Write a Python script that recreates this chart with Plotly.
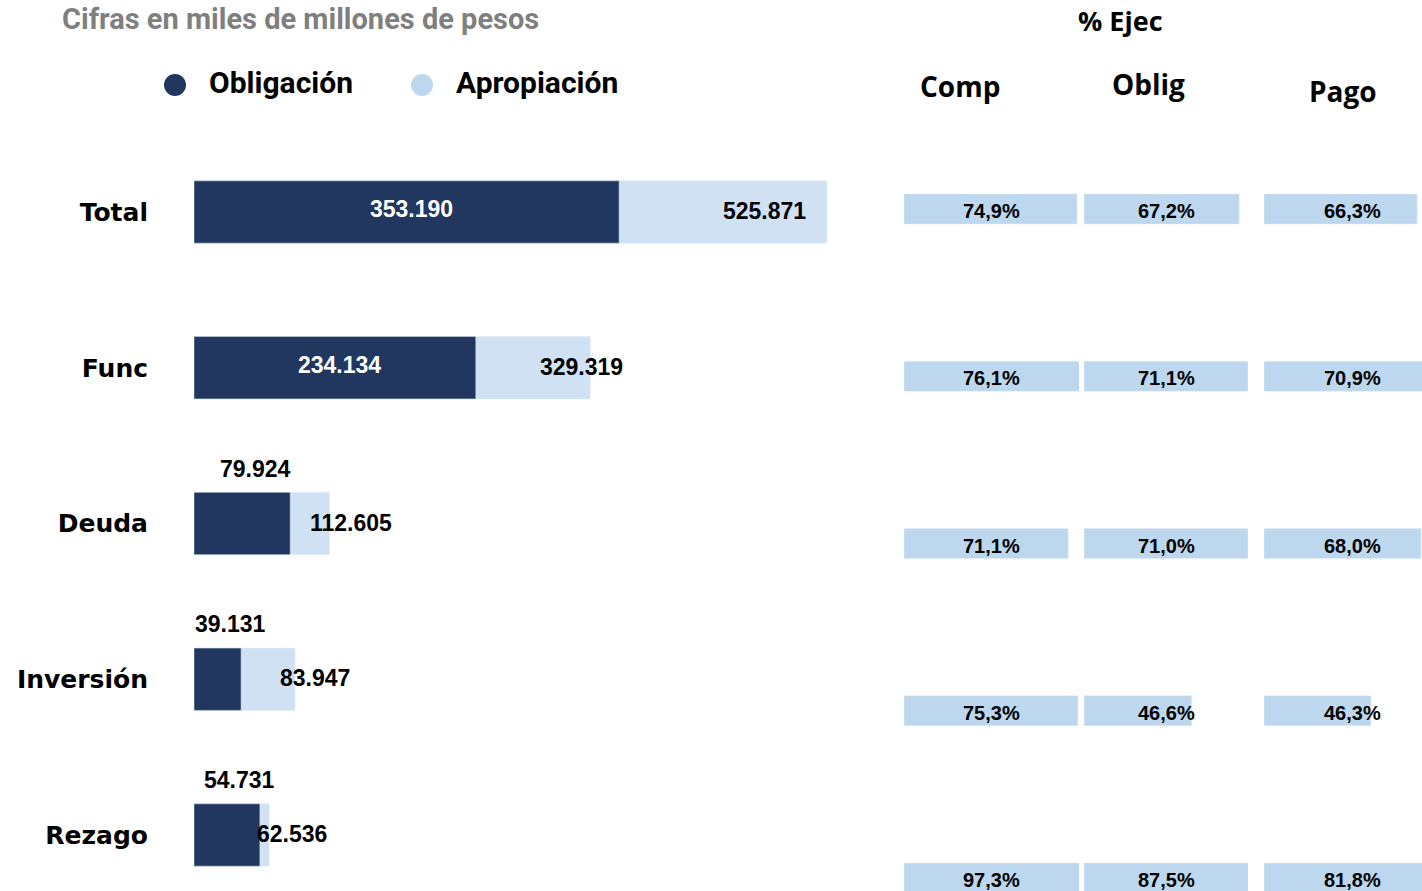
import plotly.graph_objects as go

# datos (miles de millones de pesos)
categorias = ["Total", "Func", "Deuda", "Inversión", "Rezago"]
obligacion = [353190, 234134, 79924, 39131, 54731]
apropiacion = [525871, 329319, 112605, 83947, 62536]

# % de ejecucion
pct_comp = [74.9, 76.1, 71.1, 75.3, 97.3]
pct_oblig = [67.2, 71.1, 71.0, 46.6, 87.5]
pct_pago = [66.3, 70.9, 68.0, 46.3, 81.8]

W, H = 1422, 891
DARK = "#21375F"
LIGHT = "#CFE1F2"
CELL = "#BDD7EE"
NUM_FONT = "Liberation Sans"


def miles(v):
    return f"{v:,}".replace(",", ".")


def pct(v):
    return f"{v:.1f}%".replace(".", ",")


def px_x(p):
    return p / W


def px_y(p):
    return 1 - p / H


fig = go.Figure()

# barras principales
fig.add_trace(go.Bar(y=categorias, x=apropiacion, orientation="h", marker_color=LIGHT,
                     width=0.4, showlegend=False, hoverinfo="skip"))
fig.add_trace(go.Bar(y=categorias, x=obligacion, orientation="h", marker_color=DARK,
                     width=0.4, showlegend=False, hoverinfo="skip"))

# tabla de % ejecucion
cols = [("x2", pct_comp), ("x3", pct_oblig), ("x4", pct_pago)]
for xa, vals in cols:
    fig.add_trace(go.Bar(y=categorias, x=vals, orientation="h", xaxis=xa, yaxis="y2",
                         marker_color=CELL, width=0.18, showlegend=False, hoverinfo="skip"))

px_per_unit = 1.2037 / 1000
x_left, x_right = 194, 880
px_per_pct = 2.31

left_dom = [x_left / W, x_right / W]
comp_dom = [904 / W, 1079 / W]
oblig_dom = [1084 / W, 1248 / W]
pago_dom = [1264 / W, 1.0]

fig.update_layout(
    width=W, height=H,
    margin=dict(l=0, r=0, t=0, b=0),
    plot_bgcolor="white", paper_bgcolor="white",
    barmode="overlay",
    showlegend=False,
    font=dict(family=NUM_FONT, color="black"),
    xaxis=dict(domain=left_dom, range=[0, (x_right - x_left) / px_per_unit],
               visible=False, fixedrange=True),
    yaxis=dict(domain=[0, (H - 100) / H], range=[(891 - 212) / 155.75, (100 - 212) / 155.75],
               categoryorder="array", categoryarray=categorias,
               showgrid=False, zeroline=False, showline=False, ticks="",
               ticklabelstandoff=45,
               tickfont=dict(family="DejaVu Sans", size=25, color="black", weight="bold")),
    xaxis2=dict(domain=comp_dom, range=[0, (comp_dom[1] - comp_dom[0]) * W / px_per_pct],
                visible=False, anchor="y2"),
    xaxis3=dict(domain=oblig_dom, range=[0, (oblig_dom[1] - oblig_dom[0]) * W / px_per_pct],
                visible=False, anchor="y2"),
    xaxis4=dict(domain=pago_dom, range=[0, (pago_dom[1] - pago_dom[0]) * W / px_per_pct],
                visible=False, anchor="y2"),
    yaxis2=dict(domain=[0, (H - 100) / H], range=[(891 - 209) / 167.25, (100 - 209) / 167.25],
                categoryorder="array", categoryarray=categorias, visible=False, anchor="x2"),
)

# leyenda (circulos + texto)
for nombre, color, cx in [("Obligación", DARK, 175), ("Apropiación", CELL, 422)]:
    fig.add_shape(type="circle", xref="paper", yref="paper",
                  x0=px_x(cx - 11), x1=px_x(cx + 11), y0=px_y(85 + 11), y1=px_y(85 - 11),
                  fillcolor=color, line_width=0)
    fig.add_annotation(x=px_x(cx + 32), y=px_y(82), xref="paper", yref="paper",
                       xanchor="left", yanchor="middle", text=f"<b>{nombre}</b>", showarrow=False,
                       font=dict(family="Roboto", size=30, color="black"))

# textos de las barras
aprop_shift = [-19, 35, 64, 57, 60]
for i, cat in enumerate(categorias):
    ob = obligacion[i]
    if ob > 150000:
        fig.add_annotation(x=ob / 2, y=cat, xref="x", yref="y", text=f"<b>{miles(ob)}</b>",
                           showarrow=False, xshift=5, yshift=3,
                           xanchor="center", yanchor="middle",
                           font=dict(family=NUM_FONT, size=23, color="white"))
    else:
        fig.add_annotation(x=ob / 2, y=cat, xref="x", yref="y", text=f"<b>{miles(ob)}</b>",
                           showarrow=False, xshift=13, yshift=55,
                           xanchor="center", yanchor="middle",
                           font=dict(family=NUM_FONT, size=23, color="black"))
    fig.add_annotation(x=apropiacion[i], y=cat, xref="x", yref="y",
                       text=f"<b>{miles(apropiacion[i])}</b>", showarrow=False,
                       xanchor="right", yanchor="middle", xshift=aprop_shift[i], yshift=1,
                       font=dict(family=NUM_FONT, size=23, color="black"))

# textos de la tabla
for xa, vals in cols:
    shift = 9 if xa == "x4" else 0
    for i, cat in enumerate(categorias):
        fig.add_annotation(x=0.5, y=cat, xref=f"{xa} domain", yref="y2", text=f"<b>{pct(vals[i])}</b>",
                           showarrow=False, xshift=shift, yshift=-2,
                           xanchor="center", yanchor="middle",
                           font=dict(family=NUM_FONT, size=20, color="black"))

# titulos
fig.add_annotation(x=px_x(60), y=px_y(19), xref="paper", yref="paper",
                   xanchor="left", yanchor="middle",
                   text="<b>Cifras en miles de millones de pesos</b>", showarrow=False,
                   font=dict(family="Roboto", size=29, color="#7F7F7F"))
fig.add_annotation(x=px_x(1120), y=px_y(20), xref="paper", yref="paper",
                   xanchor="center", yanchor="middle",
                   text="<b>% Ejec</b>", showarrow=False,
                   font=dict(family="Open Sans", size=27, color="black"))
for txt, cx, cy in [("Comp", 960, 86), ("Oblig", 1148, 84), ("Pago", 1343, 91)]:
    fig.add_annotation(x=px_x(cx), y=px_y(cy), xref="paper", yref="paper",
                       xanchor="center", yanchor="middle",
                       text=f"<b>{txt}</b>", showarrow=False,
                       font=dict(family="Open Sans", size=28, color="black"))

fig.write_html("out.html", config={"displayModeBar": False},
               post_script="document.body.style.margin='0';")
